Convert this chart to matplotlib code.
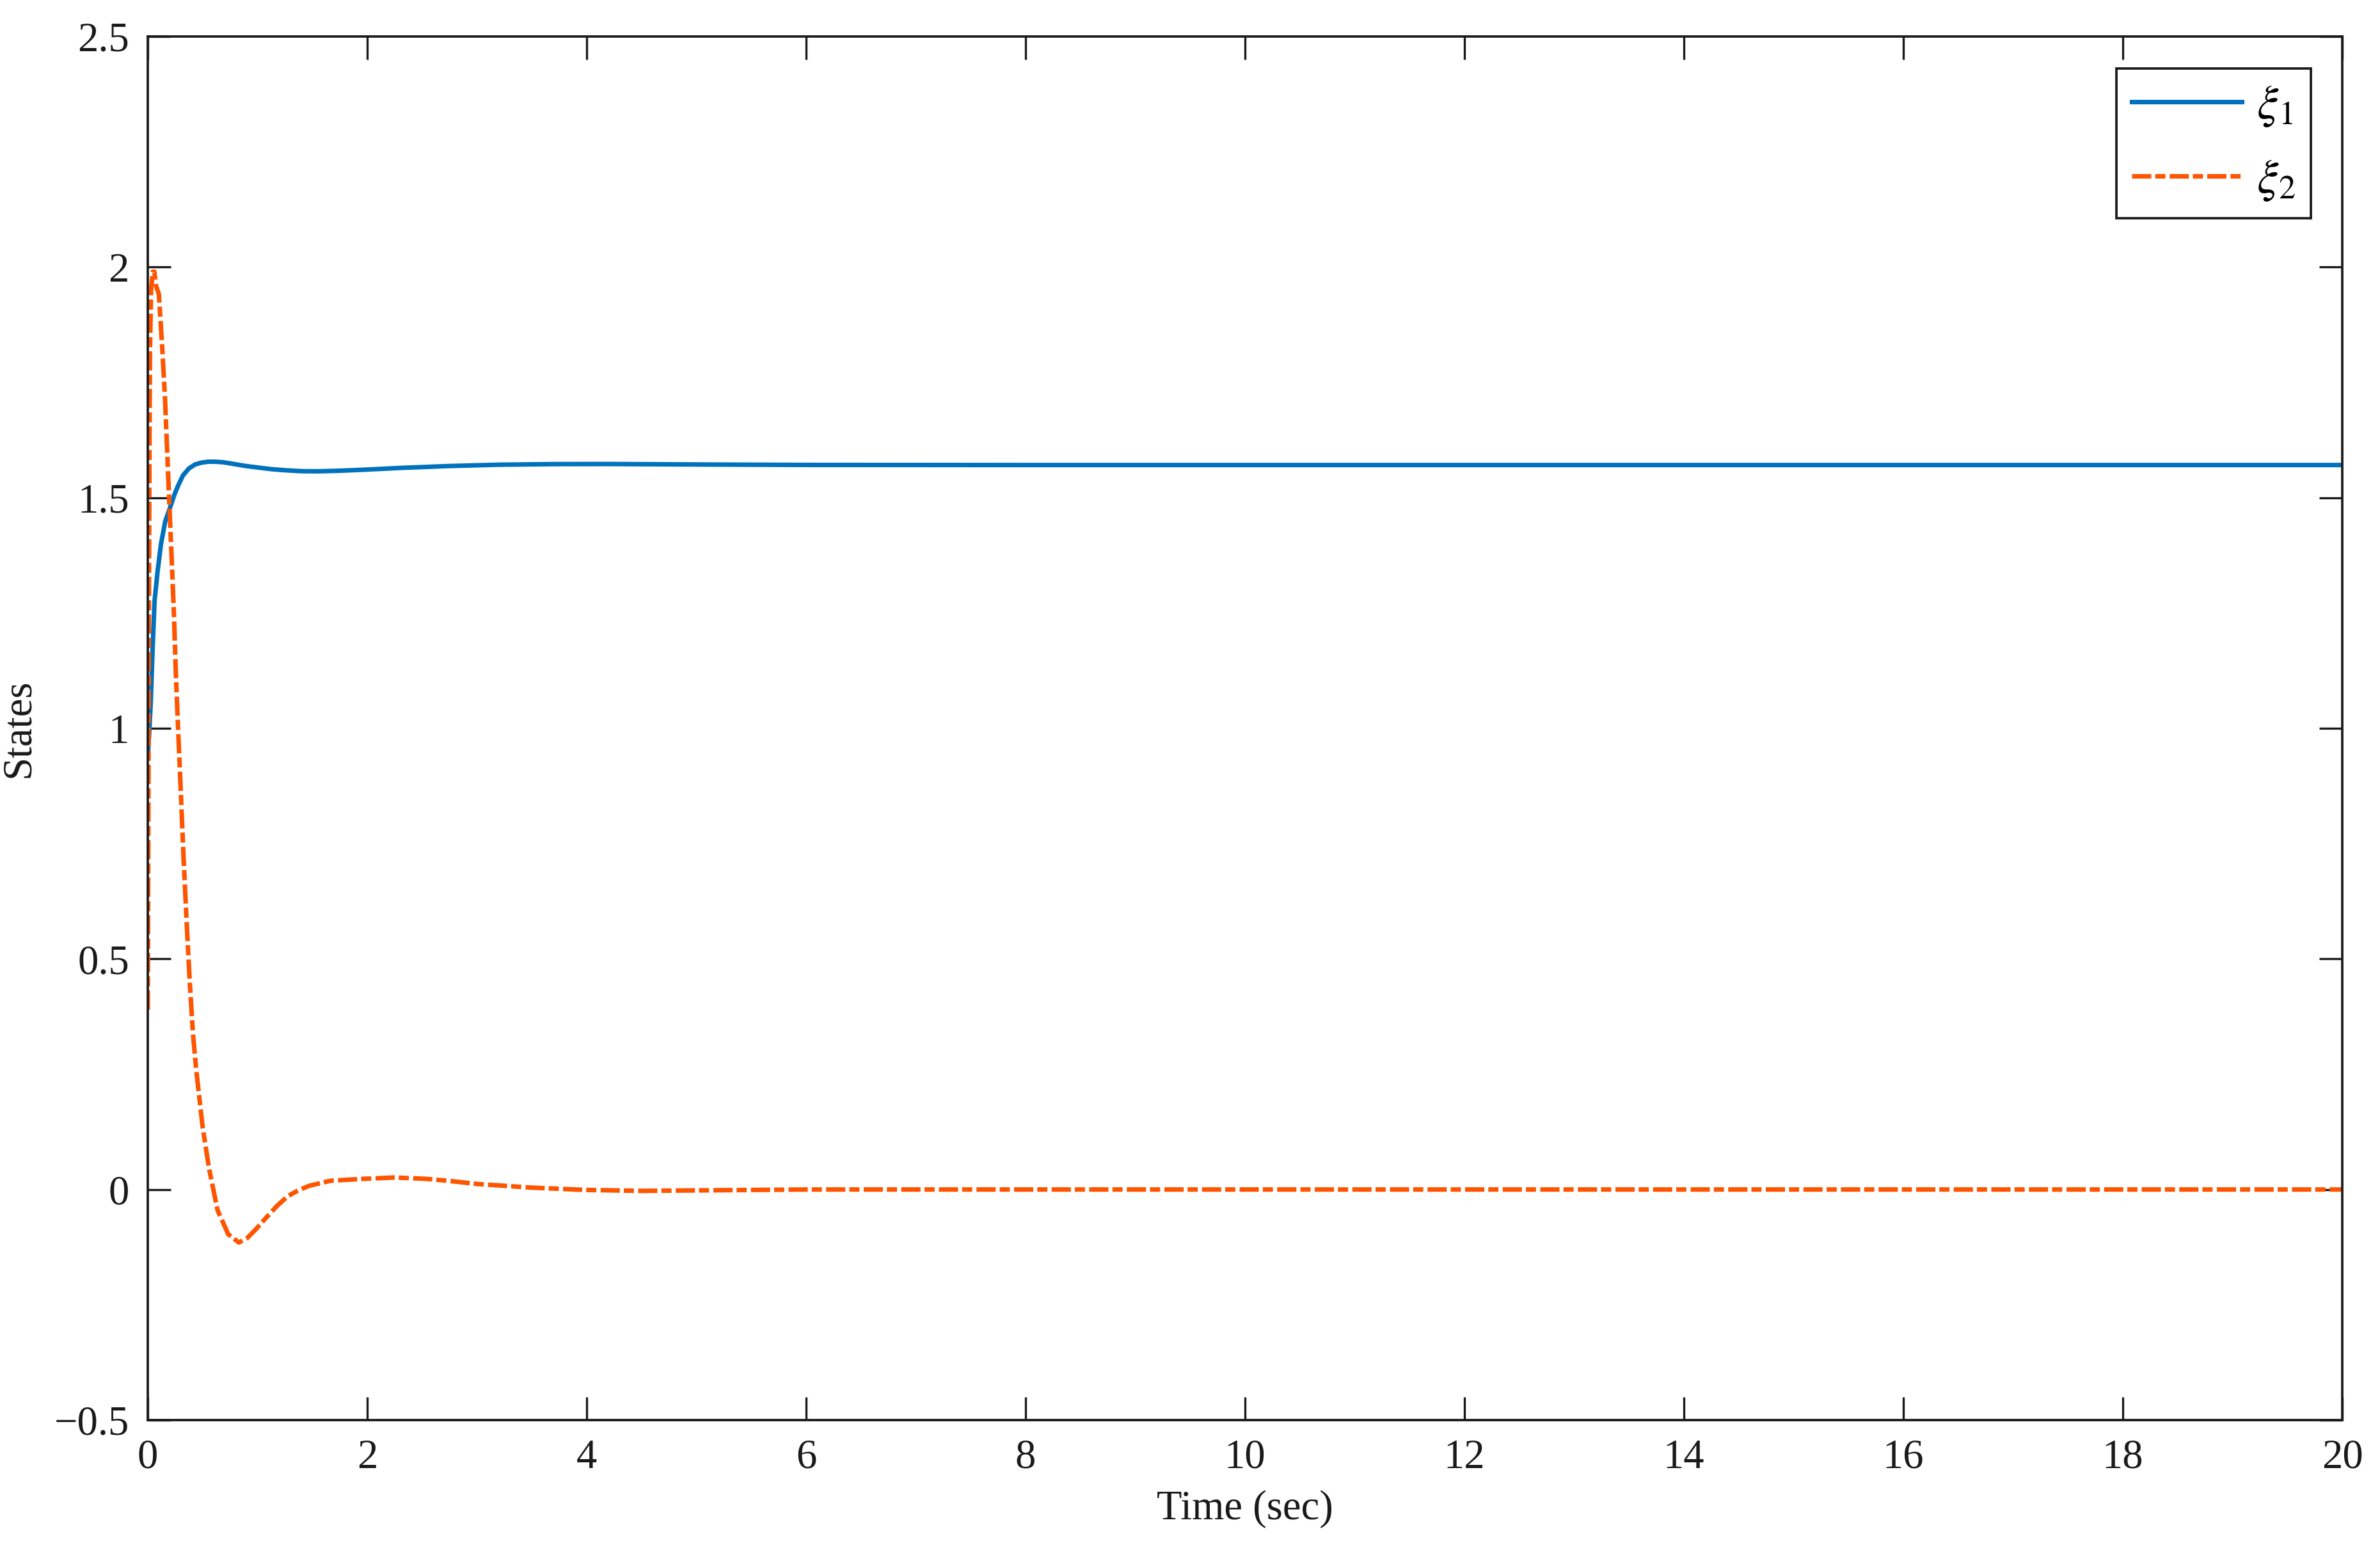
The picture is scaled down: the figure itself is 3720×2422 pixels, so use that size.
import numpy as np
import matplotlib
matplotlib.use("Agg")
import matplotlib.pyplot as plt

# state trajectories
t_xi1 = [0, 0.013, 0.027, 0.043, 0.062, 0.091, 0.12, 0.159, 0.208, 0.245, 0.276, 0.32,
         0.373, 0.43, 0.49, 0.55, 0.607, 0.68, 0.762, 0.884, 1.0, 1.12, 1.25, 1.4, 1.55,
         1.76, 2.0, 2.3, 2.73, 3.2, 3.7, 4.2, 5.0, 6.0, 8.0, 10.0, 20.0]
xi1 = [0.94, 0.99, 1.056, 1.166, 1.277, 1.344, 1.399, 1.449, 1.482, 1.508, 1.526, 1.548,
       1.563, 1.572, 1.576, 1.578, 1.578, 1.577, 1.574, 1.569, 1.5655, 1.562, 1.5595, 1.5575, 1.5572,
       1.5585, 1.561, 1.5645, 1.5685, 1.5715, 1.5728, 1.573, 1.572, 1.571, 1.5708, 1.5708, 1.5708]

t_xi2 = [0, 0.005, 0.01, 0.015, 0.02, 0.03, 0.045, 0.06, 0.075, 0.101, 0.13, 0.156,
         0.179, 0.198, 0.218, 0.237, 0.257, 0.276, 0.296, 0.325, 0.354, 0.383, 0.412,
         0.441, 0.4995, 0.558, 0.636, 0.733, 0.83, 0.908, 0.99, 1.083, 1.18, 1.277, 1.37,
         1.471, 1.666, 1.957, 2.249, 2.54, 2.73, 3.0, 3.5, 4.0, 4.5, 5.0, 6.0, 8.0, 20.0]
xi2 = [0.39, 0.8, 1.25, 1.6, 1.82, 1.95, 1.99, 1.99, 1.96, 1.941, 1.831, 1.72,
       1.587, 1.476, 1.366, 1.255, 1.111, 1.0, 0.89, 0.724, 0.58, 0.447, 0.337,
       0.26, 0.136, 0.046, -0.045, -0.097, -0.115, -0.105, -0.085, -0.06, -0.035, -0.0144,
       -0.002, 0.008, 0.019, 0.023, 0.026, 0.023, 0.019, 0.012, 0.004, -0.001, -0.003,
       -0.002, 0.0, 0.0, 0.0]

plt.rcParams['font.family'] = ['Liberation Serif', 'DejaVu Serif']
plt.rcParams['mathtext.fontset'] = 'stix'
plt.rcParams['lines.scale_dashes'] = False

fig = plt.figure(figsize=(12.4, 2422 / 300), dpi=300)
ax = fig.add_axes([231 / 3720, 1 - 2219 / 2422, (3661 - 231) / 3720, (2219 - 57) / 2422])

ax.plot(t_xi1, xi1, color='#0072BD', lw=1.7, label=r'$\xi_1$')
ax.plot(t_xi2, xi2, color='#FF5500', lw=1.7, linestyle=(0, (7.2, 1.5, 3.8, 1.6)),
        label=r'$\xi_2$')

ax.set_xlim(0, 20)
ax.set_ylim(-0.5, 2.5)
ax.set_xticks(np.arange(0, 21, 2))
ax.set_yticks(np.arange(-0.5, 2.51, 0.5))
ax.set_yticklabels(['\u22120.5', '0', '0.5', '1', '1.5', '2', '2.5'])
ax.tick_params(direction='in', length=8.6, width=0.8, top=True, right=True,
               labelsize=15.5, colors='#1a1a1a', pad=7)
for s in ax.spines.values():
    s.set_linewidth(0.9)
    s.set_color('#1a1a1a')

ax.set_xlabel('Time (sec)', fontsize=15.5, labelpad=5, color='#1a1a1a')
ax.set_ylabel('States', fontsize=15.5, labelpad=6, color='#1a1a1a')

leg = ax.legend(loc='upper right', bbox_to_anchor=(0.9857, 0.9769), borderaxespad=0,
                fontsize=18, handlelength=2.3, handletextpad=0.3, labelspacing=0.62,
                borderpad=0.32, fancybox=False, framealpha=1, edgecolor='#1a1a1a')
leg.get_frame().set_linewidth(0.9)

fig.savefig('out.png', dpi=300, facecolor='white')
